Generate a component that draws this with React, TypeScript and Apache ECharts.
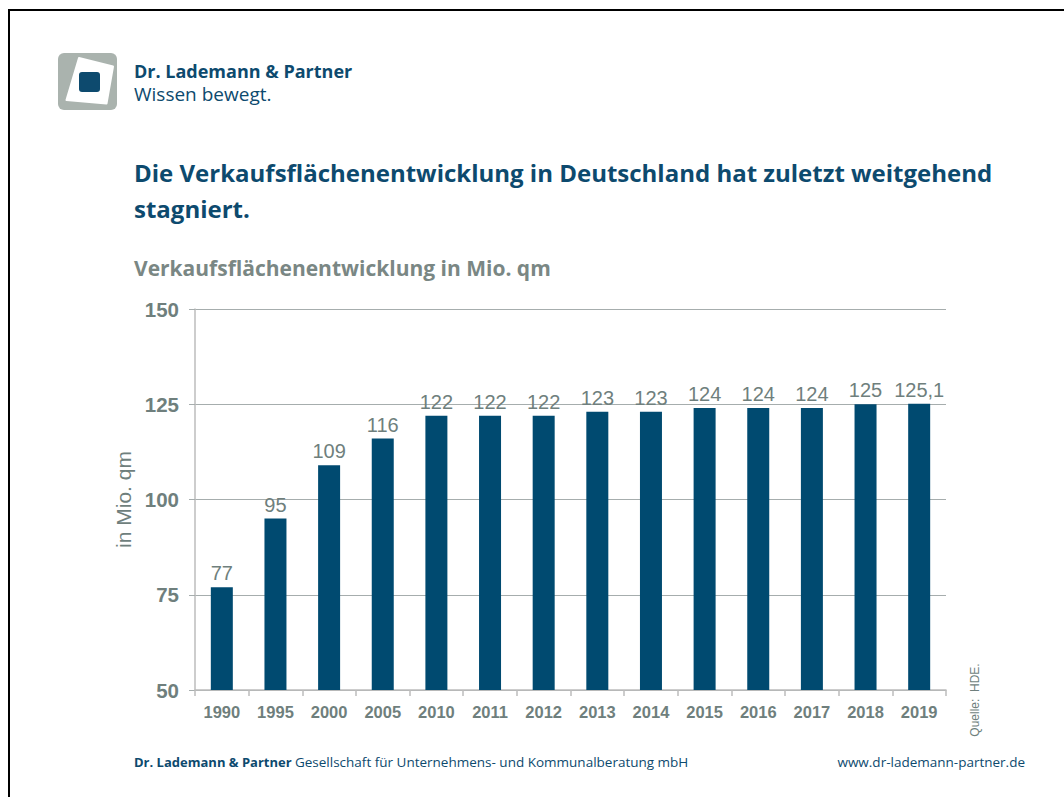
import React, { useEffect, useRef } from "react";
import * as echarts from "echarts";

const years = ["1990", "1995", "2000", "2005", "2010", "2011", "2012", "2013", "2014", "2015", "2016", "2017", "2018", "2019"];
const areaValues = [77, 95, 109, 116, 122, 122, 122, 123, 123, 124, 124, 124, 125, 125.1];
const yTicks = { min: 50, max: 150, interval: 25 };

const titleLine1 = "Die Verkaufsflächenentwicklung in Deutschland hat zuletzt weitgehend";
const titleLine2 = "stagniert.";
const subtitle = "Verkaufsflächenentwicklung in Mio. qm";
const axisName = "in Mio. qm";
const sourceText = "Quelle:  HDE.";
const footerCompany = "Dr. Lademann & Partner";
const footerRest = "Gesellschaft für Unternehmens- und Kommunalberatung mbH";
const footerUrl = "www.dr-lademann-partner.de";
const logoName = "Dr. Lademann & Partner";
const logoClaim = "Wissen bewegt.";

const BLUE = "#004a70";
const DARK = "#0d4a6e";
const GRAY = "#6f7f7d";
const SANS = "'Liberation Sans', Arial, sans-serif";
const HUM = "'Open Sans', 'Noto Sans', sans-serif";

export default function App() {
  const ref = useRef<HTMLDivElement>(null);
  useEffect(() => {
    document.body.style.margin = "0";
    const chart = echarts.init(ref.current!, undefined, { renderer: "svg" });
    chart.setOption({
      animation: false,
      backgroundColor: "#ffffff",
      grid: { left: 195, top: 309, width: 751, height: 381, containLabel: false },
      xAxis: {
        type: "category",
        data: years,
        axisLine: { show: true, lineStyle: { color: "#bcbcbc", width: 1.5 } },
        axisTick: { show: true, length: 6, lineStyle: { color: "#bcbcbc", width: 1.5 } },
        axisLabel: { color: GRAY, fontWeight: "bold", fontSize: 16.5, fontFamily: SANS, margin: 13 },
      },
      yAxis: {
        type: "value",
        min: yTicks.min,
        max: yTicks.max,
        interval: yTicks.interval,
        name: axisName,
        nameLocation: "middle",
        nameRotate: 90,
        nameGap: 61,
        nameTextStyle: { color: GRAY, fontSize: 21, fontFamily: SANS },
        axisLine: { show: true, lineStyle: { color: "#bcbcbc", width: 1.5 } },
        axisTick: { show: true, length: 6, lineStyle: { color: "#a6adad" } },
        axisLabel: { color: GRAY, fontWeight: "bold", fontSize: 20.5, fontFamily: SANS, margin: 16 },
        splitLine: { lineStyle: { color: "#a6adad", width: 1.2 } },
      },
      series: [
        {
          type: "bar",
          data: areaValues,
          barWidth: 22,
          itemStyle: { color: BLUE },
          label: {
            show: true,
            position: "top",
            distance: 4,
            color: GRAY,
            fontSize: 20,
            fontFamily: SANS,
            formatter: (p: any) => String(p.value).replace(".", ","),
          },
        },
      ],
      graphic: [
        {
          type: "rect",
          shape: { x: 9, y: 10, width: 1200, height: 1000 },
          style: { fill: "none", stroke: "#000", lineWidth: 2 },
          silent: true,
        },
        {
          type: "rect",
          shape: { x: 58, y: 53, width: 59, height: 57, r: 6 },
          style: { fill: "#aab3ae" },
        },
        {
          type: "polygon",
          shape: { points: [[79, 58], [113, 66.5], [106.5, 103.5], [66.5, 100]] },
          style: { fill: "#ffffff", stroke: "#ffffff", lineWidth: 2, lineJoin: "round" },
        },
        {
          type: "rect",
          shape: { x: 79, y: 72, width: 21, height: 20, r: 3 },
          style: { fill: DARK },
        },
        {
          type: "text",
          x: 134,
          y: 71,
          style: { text: logoName, fill: DARK, font: `bold 18px ${HUM}`, verticalAlign: "middle", lineHeight: 20 },
        },
        {
          type: "text",
          x: 134,
          y: 94,
          style: { text: logoClaim, fill: DARK, font: `19px ${HUM}`, verticalAlign: "middle", lineHeight: 21 },
        },
        {
          type: "text",
          x: 134,
          y: 172,
          style: { text: titleLine1, fill: DARK, font: `bold 24px ${HUM}`, verticalAlign: "middle" },
        },
        {
          type: "text",
          x: 134,
          y: 208,
          style: { text: titleLine2, fill: DARK, font: `bold 24px ${HUM}`, verticalAlign: "middle" },
        },
        {
          type: "text",
          x: 134,
          y: 268,
          style: { text: subtitle, fill: "#7a8784", font: `bold 21px ${HUM}`, verticalAlign: "middle" },
        },
        {
          type: "text",
          x: 975,
          y: 700,
          rotation: Math.PI / 2,
          style: { text: sourceText, fill: GRAY, font: `12px ${SANS}`, align: "center", verticalAlign: "middle" },
        },
        {
          type: "text",
          x: 134,
          y: 762,
          style: {
            text: `{b|${footerCompany}} {n|${footerRest}}`,
            verticalAlign: "middle",
            rich: {
              b: { fill: DARK, font: `bold 13px ${HUM}` },
              n: { fill: DARK, font: `13.5px ${HUM}` },
            },
          },
        },
        {
          type: "text",
          x: 1025,
          y: 762,
          style: { text: footerUrl, fill: DARK, font: `13.5px ${HUM}`, align: "right", verticalAlign: "middle" },
        },
      ],
    });
    return () => chart.dispose();
  }, []);
  return <div ref={ref} style={{ width: 1064, height: 797 }} />;
}
